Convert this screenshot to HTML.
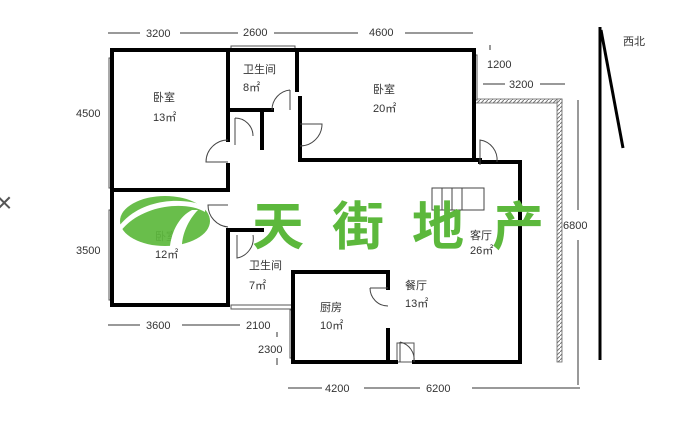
<!DOCTYPE html>
<html><head><meta charset="utf-8"><style>
body{margin:0;background:#fff;width:682px;height:443px;overflow:hidden}
svg{display:block}
text{font-family:"Liberation Sans","Noto Sans CJK SC",sans-serif;fill:#333;font-size:11px}
</style></head><body>
<svg width="682" height="443" viewBox="0 0 682 443">
<defs><pattern id="h" width="4" height="4" patternUnits="userSpaceOnUse"><rect width="4" height="4" fill="#fff"/><path d="M0 4L4 0" stroke="#777" stroke-width="1"/></pattern></defs>
<g stroke="#333" stroke-width="1">
<line x1="108" y1="33" x2="140" y2="33"/><line x1="180" y1="33" x2="238" y2="33"/><line x1="274" y1="33" x2="358" y2="33"/><line x1="405" y1="33" x2="473" y2="33"/>
<line x1="108" y1="325" x2="140" y2="325"/><line x1="182" y1="325" x2="240" y2="325"/>
<line x1="288" y1="388" x2="322" y2="388"/><line x1="364" y1="388" x2="420" y2="388"/><line x1="472" y1="388" x2="580" y2="388"/>
<line x1="483" y1="84" x2="505" y2="84"/><line x1="540" y1="84" x2="565" y2="84"/>
<line x1="578" y1="100" x2="578" y2="210"/><line x1="578" y1="240" x2="578" y2="385"/>
<line x1="490" y1="45" x2="490" y2="50"/><line x1="277" y1="332" x2="277" y2="337"/><line x1="277" y1="358" x2="277" y2="365"/>
</g>
<rect x="474" y="99" width="88" height="4" fill="url(#h)" stroke="#666" stroke-width="0.8"/>
<rect x="557" y="99" width="5" height="263" fill="url(#h)" stroke="#666" stroke-width="0.8"/>
<g fill="#fff" stroke="#555" stroke-width="1">
<rect x="109" y="58" width="3" height="130"/><rect x="109" y="210" width="3" height="90"/>
<rect x="231" y="46" width="64" height="4"/><rect x="473" y="55" width="4" height="45"/>
<rect x="231" y="305" width="62" height="4"/><rect x="290" y="310" width="4" height="48"/>
<rect x="397" y="343" width="17" height="19"/>
</g>
<g stroke="#000" stroke-width="4" fill="none" stroke-linecap="square">
<path d="M112 50H474V160"/><path d="M112 50V305H228"/>
<path d="M112 190H228"/><path d="M228 50V140"/><path d="M228 165V190M228 230V305"/>
<path d="M228 110H272"/><path d="M262 110V148"/><path d="M297 50V90M300 98V120"/>
<path d="M300 124V160H480"/><path d="M480 162H520V362H414"/><path d="M396 362H293V272H388V288"/>
<path d="M293 272V305"/><path d="M230 230H262"/><path d="M388 330V362"/>
</g>
<g stroke="#444" stroke-width="1" fill="none">
<path d="M300 124H322A22 22 0 0 1 300 146"/><path d="M290 90V110M290 90A20 20 0 0 0 272 110"/>
<path d="M235 118V145M235 118A18 18 0 0 1 253 136"/><path d="M228 162H206A22 22 0 0 1 228 140"/>
<path d="M228 205H208A22 22 0 0 0 228 227"/><path d="M237 235V258A20 20 0 0 0 253 235"/>
<path d="M370 288H388M370 288A18 18 0 0 0 388 306"/><path d="M400 342V362M400 342A18 18 0 0 1 414 362"/>
<path d="M480 165V140A20 20 0 0 1 497 162"/>
<rect x="432" y="188" width="52" height="22"/><path d="M442 188V210M452 188V210M462 188V210"/>
</g>
<line x1="600" y1="27" x2="600" y2="360" stroke="#000" stroke-width="3"/>
<line x1="601" y1="30" x2="623" y2="148" stroke="#000" stroke-width="3"/>
<text x="146" y="37">3200</text><text x="243" y="36">2600</text><text x="369" y="36">4600</text>
<text x="76" y="117">4500</text><text x="76" y="254">3500</text>
<text x="487" y="68">1200</text><text x="509" y="88">3200</text><text x="563" y="229">6800</text>
<text x="146" y="329">3600</text><text x="246" y="329">2100</text><text x="258" y="353">2300</text>
<text x="325" y="392">4200</text><text x="426" y="392">6200</text>
<text x="623" y="45">西北</text>
<text x="153" y="101">卧室</text><text x="153" y="121">13㎡</text>
<text x="243" y="73">卫生间</text><text x="243" y="91">8㎡</text>
<text x="373" y="93">卧室</text><text x="373" y="112">20㎡</text>
<text x="155" y="240">卧室</text><text x="155" y="258">12㎡</text>
<text x="249" y="269">卫生间</text><text x="249" y="289">7㎡</text>
<text x="320" y="311">厨房</text><text x="320" y="329">10㎡</text>
<text x="405" y="289">餐厅</text><text x="405" y="307">13㎡</text>
<text x="470" y="239">客厅</text><text x="470" y="254">26㎡</text>
<text x="-4" y="212" style="font-size:28px;fill:#555">×</text>
<ellipse cx="165" cy="221" rx="45" ry="25" fill="#5cb83c" opacity="0.92"/>
<path d="M120 232C140 205 185 200 205 212L205 206C180 196 140 200 120 225Z" fill="#fff"/>
<path d="M170 246C172 230 180 216 192 210L198 210C188 220 182 235 182 246Z" fill="#fff"/>
<text x="252" y="245" style="font-size:52px;fill:#5cb83c;font-weight:bold;letter-spacing:28px">天街地产</text>
</svg>
</body></html>
